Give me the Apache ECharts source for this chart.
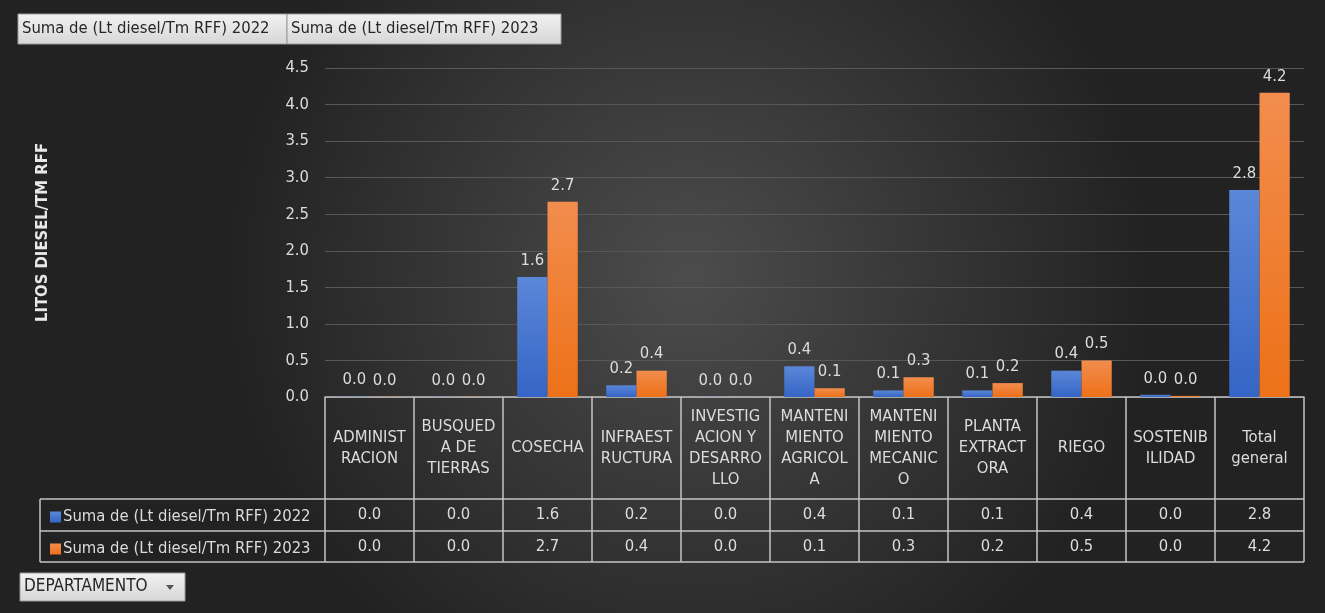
<!DOCTYPE html>
<html>
<head>
<meta charset="utf-8">
<script src="https://cdn.jsdelivr.net/npm/echarts@6/dist/echarts.min.js"></script>
<style>
  html, body { margin: 0; padding: 0; }
  #chart { width: 1325px; height: 613px; }
</style>
</head>
<body>
<div id="chart"></div>
<script>
const categories = [
  "ADMINISTRACION", "BUSQUEDA DE TIERRAS", "COSECHA", "INFRAESTRUCTURA",
  "INVESTIGACION Y DESARROLLO", "MANTENIMIENTO AGRICOLA", "MANTENIMIENTO MECANICO",
  "PLANTA EXTRACTORA", "RIEGO", "SOSTENIBILIDAD", "Total general"
];
// how Excel wrapped the names inside the table header
const categoryLabels = [
  "ADMINIST\nRACION", "BUSQUED\nA DE\nTIERRAS", "COSECHA", "INFRAEST\nRUCTURA",
  "INVESTIG\nACION Y\nDESARRO\nLLO", "MANTENI\nMIENTO\nAGRICOL\nA", "MANTENI\nMIENTO\nMECANIC\nO",
  "PLANTA\nEXTRACT\nORA", "RIEGO", "SOSTENIB\nILIDAD", "Total\ngeneral"
];
const values2022 = [0.004, 0.003, 1.64, 0.16, 0.002, 0.42, 0.09, 0.09, 0.36, 0.03, 2.83];
const values2023 = [0.002, 0.002, 2.67, 0.36, 0.001, 0.12, 0.27, 0.19, 0.50, 0.015, 4.16];
const seriesNames = ["Suma de (Lt diesel/Tm RFF) 2022", "Suma de (Lt diesel/Tm RFF) 2023"];
const yTicks = { min: 0, max: 4.5, interval: 0.5 };

const FONT = "'Liberation Sans Narrow', 'DejaVu Sans Condensed', sans-serif";
const TEXT = "#dcdcdc";
const BORDER = "#c4c4c4";
const FS = 16.5;

// table layout
const gridLeft = 325, gridRight = 1304, axisY = 397;
const headerBottom = 499, row1Bottom = 531, row2Bottom = 562, tableLeft = 40;

const chart = echarts.init(document.getElementById("chart"));

function barGradient(top, bottom) {
  return new echarts.graphic.LinearGradient(0, 0, 0, 1, [
    { offset: 0, color: top },
    { offset: 1, color: bottom }
  ]);
}

function hLine(y, x1, x2) {
  return {
    type: "line",
    shape: { x1, y1: y, x2, y2: y },
    style: { stroke: BORDER, lineWidth: 1.5 }
  };
}

function fieldButton(x, y, w, h, text, size) {
  return {
    type: "group",
    children: [
      {
        type: "rect",
        shape: { x, y, width: w, height: h },
        style: {
          fill: new echarts.graphic.LinearGradient(0, 0, 0, 1, [
            { offset: 0, color: "#f2f2f2" },
            { offset: 1, color: "#d6d6d6" }
          ]),
          stroke: "#9a9a9a",
          lineWidth: 1
        }
      },
      {
        type: "text",
        x: x + 4,
        y: y + h / 2,
        style: { text, fill: "#262626", font: size + "px " + FONT, verticalAlign: "middle" }
      }
    ]
  };
}

const rowAxis = (values, offset) => ({
  type: "category",
  data: categories,
  position: "bottom",
  offset,
  axisLine: { show: false },
  axisTick: { show: false },
  axisLabel: {
    interval: 0,
    margin: 16,
    verticalAlign: "middle",
    color: TEXT,
    fontFamily: FONT,
    fontSize: FS,
    formatter: (v, i) => values[i].toFixed(1)
  }
});

const barLabel = {
  show: true,
  position: "top",
  distance: 8,
  color: TEXT,
  fontFamily: FONT,
  fontSize: FS,
  formatter: (p) => p.value.toFixed(1)
};

chart.setOption({
  backgroundColor: {
    type: "radial",
    x: 0.52,
    y: 0.45,
    r: 0.75,
    colorStops: [
      { offset: 0, color: "#4c4c4c" },
      { offset: 1, color: "#222222" }
    ]
  },
  animation: false,
  grid: { left: gridLeft, right: 1325 - gridRight, top: 68, bottom: 613 - axisY },
  legend: {
    orient: "vertical",
    left: tableLeft + 5,
    top: 502,
    itemWidth: 11,
    itemHeight: 11,
    itemGap: 12,
    icon: "rect",
    textStyle: { color: TEXT, fontFamily: FONT, fontSize: FS, lineHeight: 18, padding: [0, 0, 2, -3] },
    data: seriesNames
  },
  xAxis: [
    {
      type: "category",
      data: categories,
      axisLine: { show: true, lineStyle: { color: BORDER, width: 1.5 } },
      axisTick: { show: true, interval: 0, length: row2Bottom - axisY, lineStyle: { color: BORDER, width: 1.5 } },
      axisLabel: {
        interval: 0,
        margin: (headerBottom - axisY) / 2,
        verticalAlign: "middle",
        align: "center",
        color: TEXT,
        fontFamily: FONT,
        fontSize: FS,
        lineHeight: 21,
        formatter: (v, i) => categoryLabels[i]
      }
    },
    rowAxis(values2022, headerBottom - axisY),
    rowAxis(values2023, row1Bottom - axisY)
  ],
  yAxis: {
    type: "value",
    min: yTicks.min,
    max: yTicks.max,
    interval: yTicks.interval,
    name: "LITOS DIESEL/TM RFF",
    nameLocation: "middle",
    nameGap: 274,
    nameRotate: 90,
    nameTextStyle: { color: "#e8e8e8", fontFamily: FONT, fontSize: 16.5, fontWeight: "bold" },
    axisLabel: {
      color: TEXT,
      fontFamily: FONT,
      fontSize: FS,
      margin: 16,
      formatter: (v) => v.toFixed(1)
    },
    splitLine: { lineStyle: { color: "#585858", width: 1 } }
  },
  series: [
    {
      name: seriesNames[0],
      type: "bar",
      data: values2022,
      barGap: "0%",
      barCategoryGap: "32%",
      itemStyle: { color: barGradient("#5b87d8", "#3565c6") },
      label: barLabel
    },
    {
      name: seriesNames[1],
      type: "bar",
      data: values2023,
      itemStyle: { color: barGradient("#f28d4e", "#ed7118") },
      label: barLabel
    }
  ],
  graphic: [
    fieldButton(18, 14, 269, 30, seriesNames[0], 16.5),
    fieldButton(287, 14, 274, 30, seriesNames[1], 16.5),
    hLine(headerBottom, tableLeft, gridRight),
    hLine(row1Bottom, tableLeft, gridRight),
    hLine(row2Bottom, tableLeft, gridRight),
    {
      type: "line",
      shape: { x1: tableLeft, y1: headerBottom, x2: tableLeft, y2: row2Bottom },
      style: { stroke: BORDER, lineWidth: 1.5 }
    },
    fieldButton(20, 573, 165, 28, "DEPARTAMENTO", 17),
    {
      type: "polygon",
      shape: { points: [[166, 585], [174, 585], [170, 590]] },
      style: { fill: "#555555" }
    }
  ]
});
</script>
</body>
</html>
